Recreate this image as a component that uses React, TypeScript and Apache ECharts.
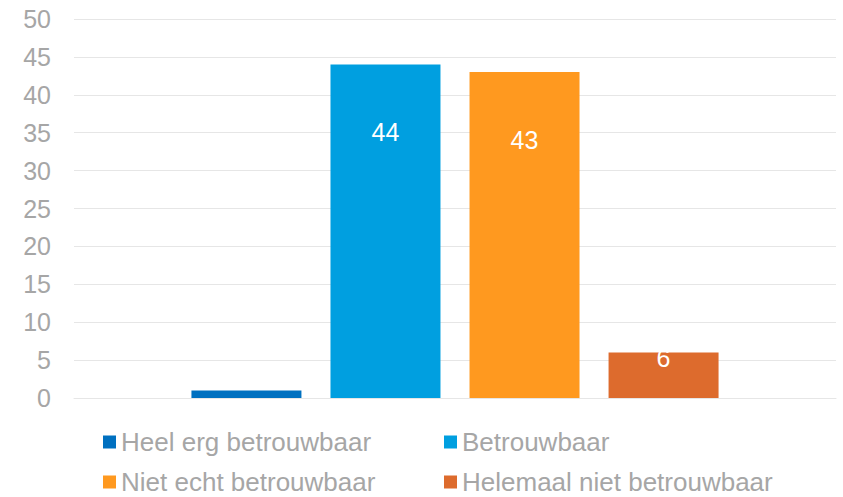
import React, { useEffect, useRef } from "react";
import * as echarts from "echarts";

const categories = [""];
const seriesNames = [
  "Heel erg betrouwbaar",
  "Betrouwbaar",
  "Niet echt betrouwbaar",
  "Helemaal niet betrouwbaar",
];
const seriesValues = [1, 44, 43, 6];
const seriesColors = ["#0070c0", "#009fe0", "#ff991f", "#dd6b2d"];
const showLabel = [false, true, true, true];
const labelOffset = [68, 68, 68, 5];
const legendLeft = [103, 444, 103, 444];
const legendTop = [428, 428, 468, 468];

export default function App() {
  const ref = useRef<HTMLDivElement>(null);
  useEffect(() => {
    if (!ref.current) return;
    const chart = echarts.init(ref.current, null, { renderer: "svg" });
    const font = "'Liberation Sans', Arial, sans-serif";
    const legendText = {
      color: "#a6a6a6",
      fontSize: 26,
      fontFamily: font,
      lineHeight: 28,
    };
    chart.setOption({
      animation: false,
      grid: { left: 74, right: 7, top: 19, bottom: 99, containLabel: false },
      xAxis: {
        type: "category",
        data: categories,
        axisLine: { show: true, lineStyle: { color: "#e6e6e6", width: 1 } },
        axisTick: { show: false },
        axisLabel: { show: false },
      },
      yAxis: {
        type: "value",
        min: 0,
        max: 50,
        interval: 5,
        axisLine: { show: false },
        axisTick: { show: false },
        axisLabel: {
          color: "#a6a6a6",
          fontSize: 25,
          fontFamily: font,
          margin: 23,
        },
        splitLine: { lineStyle: { color: "#e6e6e6", width: 1 } },
      },
      legend: seriesNames.map((name, i) => ({
        data: [name],
        left: legendLeft[i],
        top: legendTop[i],
        icon: "rect",
        itemWidth: 13,
        itemHeight: 13,
        padding: 0,
        textStyle: legendText,
      })),
      series: seriesNames.map((name, i) => ({
        name,
        type: "bar",
        data: [seriesValues[i]],
        barWidth: 110,
        barGap: "26.4%",
        itemStyle: { color: seriesColors[i] },
        label: {
          show: showLabel[i],
          position: ["50%", labelOffset[i]],
          align: "center",
          verticalAlign: "middle",
          color: "#ffffff",
          fontSize: 25,
          fontFamily: font,
        },
      })),
    });
    return () => chart.dispose();
  }, []);
  return (
    <div
      ref={ref}
      style={{ position: "absolute", left: 0, top: 0, width: 843, height: 497 }}
    />
  );
}
